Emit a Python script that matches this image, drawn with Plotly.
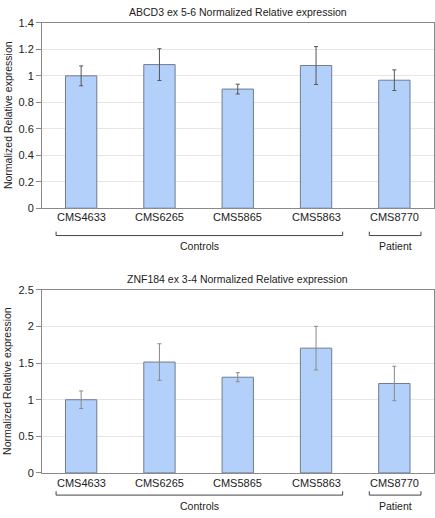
import plotly.graph_objects as go

W, H = 435, 518

samples = ["CMS4633", "CMS6265", "CMS5865", "CMS5863", "CMS8770"]

abcd3_values = [1.0, 1.085, 0.90, 1.078, 0.967]
abcd3_errors = [0.075, 0.12, 0.037, 0.143, 0.078]

znf184_values = [1.0, 1.515, 1.308, 1.705, 1.222]
znf184_errors = [0.12, 0.25, 0.062, 0.298, 0.235]

groups = [("Controls", 0, 3), ("Patient", 4, 4)]

abcd3_title = "ABCD3 ex 5-6 Normalized Relative expression"
znf184_title = "ZNF184 ex 3-4 Normalized Relative expression"
y_title = "Normalized Relative expression"

FONT = "Liberation Sans, Arial, Helvetica, sans-serif"
BAR_FILL = "#b3d0fb"
BAR_LINE = "#6f7d92"
AXIS_COL = "#8a8a8a"
GRID_COL = "#e6e6e6"


def py(px):
    return 1 - px / H


fig = go.Figure()

panels = [
    dict(vals=abcd3_values, errs=abcd3_errors, err_col="#555555", xa="x", ya="y",
         top=17.3, bot=207.0, rng=[0, 1.4], dtick=0.2, title=abcd3_title, title_y=6.5,
         lab_y=216.5, br_top=231.0, br_bot=235.0, grp_y=246.0),
    dict(vals=znf184_values, errs=znf184_errors, err_col="#8a8a8a", xa="x2", ya="y2",
         top=290.7, bot=478.0, rng=[0, 2.5], dtick=0.5, title=znf184_title, title_y=279.5,
         lab_y=488.5, br_top=496.7, br_bot=500.7, grp_y=511.5),
]

x_left, x_right = 42.0, 433.5

for i, p in enumerate(panels):
    fig.add_trace(go.Bar(
        x=list(range(len(samples))), y=p["vals"], width=0.4,
        marker=dict(color=BAR_FILL, line=dict(color=BAR_LINE, width=1)),
        error_y=dict(type="data", array=p["errs"], visible=True,
                     color=p["err_col"], thickness=1, width=2),
        xaxis=p["xa"], yaxis=p["ya"], showlegend=False, hoverinfo="skip",
    ))
    sfx = "" if i == 0 else "2"
    fig.layout["xaxis" + sfx] = dict(
        domain=[x_left / W, x_right / W], range=[-0.5, len(samples) - 0.5],
        tickmode="array", tickvals=list(range(len(samples))), ticktext=samples,
        showticklabels=False, showline=True, linecolor=AXIS_COL, linewidth=1,
        mirror=True, showgrid=False, zeroline=False, fixedrange=True,
        anchor="y" + sfx,
    )
    fig.layout["yaxis" + sfx] = dict(
        domain=[py(p["bot"]), py(p["top"])], range=p["rng"], dtick=p["dtick"],
        showline=True, linecolor=AXIS_COL, linewidth=1, mirror=True,
        showgrid=True, gridcolor=GRID_COL, gridwidth=1, zeroline=False,
        ticks="outside", ticklen=5, tickcolor=AXIS_COL, tickwidth=1,
        tickfont=dict(size=11, color="#222222", family=FONT),
        anchor="x" + sfx, fixedrange=True,
    )
    xref = "x" + sfx
    # title
    fig.add_annotation(text=p["title"], xref="paper", yref="paper",
                       x=(x_left + x_right) / 2 / W, y=py(p["title_y"]),
                       showarrow=False, xanchor="center", yanchor="middle",
                       font=dict(size=10.5, color="#222222", family=FONT))
    # y title
    fig.add_annotation(text=y_title, xref="paper", yref="paper",
                       x=7.5 / W, y=py((p["top"] + p["bot"]) / 2),
                       showarrow=False, textangle=-90, xanchor="center", yanchor="middle",
                       font=dict(size=10.5, color="#222222", family=FONT))
    # category labels
    for j, s in enumerate(samples):
        fig.add_annotation(text=s, xref=xref, yref="paper", x=j, y=py(p["lab_y"]),
                           showarrow=False, xanchor="center", yanchor="middle",
                           font=dict(size=11, color="#222222", family=FONT))
    # group brackets
    for name, a, b in groups:
        x0, x1 = a - 0.32, b + 0.34
        fig.add_shape(type="path", xref=xref, yref="paper",
                      path=f"M {x0} {py(p['br_top'])} L {x0} {py(p['br_bot'])} L {x1} {py(p['br_bot'])} L {x1} {py(p['br_top'])}",
                      line=dict(color="#444444", width=1))
        fig.add_annotation(text=name, xref=xref, yref="paper", x=(x0 + x1) / 2,
                           y=py(p["grp_y"]), showarrow=False, xanchor="center",
                           yanchor="middle",
                           font=dict(size=10.5, color="#222222", family=FONT))

fig.update_layout(
    width=W, height=H, margin=dict(l=0, r=0, t=0, b=0),
    paper_bgcolor="white", plot_bgcolor="white", bargap=0.6,
    font=dict(family=FONT), hovermode=False,
)

fig.write_html(
    "out.html",
    config={"displayModeBar": False, "staticPlot": True},
    post_script="document.body.style.margin='0';document.body.style.padding='0';document.body.style.overflow='hidden';",
)
